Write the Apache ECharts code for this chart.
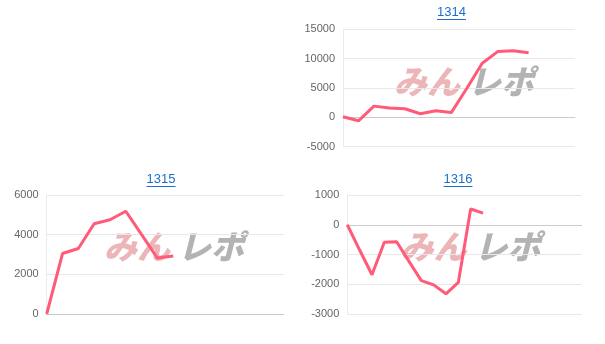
<!DOCTYPE html>
<html>
<head>
<meta charset="utf-8">
<script src="https://cdn.jsdelivr.net/npm/echarts@6/dist/echarts.min.js"></script>
<style>
html,body{margin:0;padding:0;background:#fff;}
#c{width:605px;height:344px;}
</style>
</head>
<body>
<div id="c"></div>
<script>
// ---- data ----
const titles = ['1314', '1315', '1316'];
const days1314 = ['1','2','3','4','5','6','7','8','9','10','11','12','13','14','15','16'];
const days1315 = ['1','2','3','4','5','6','7','8','9','10','11','12','13','14','15','16'];
const days1316 = ['1','2','3','4','5','6','7','8','9','10','11','12','13','14','15','16','17','18','19','20'];
const values1314 = [100, -600, 1900, 1600, 1450, 600, 1100, 800, 4900, 9200, 11200, 11350, 11000];
const values1315 = [0, 3050, 3300, 4550, 4750, 5180, 4000, 2820, 2920];
const values1316 = [0, -850, -1680, -590, -570, -1230, -1880, -2020, -2320, -1940, 530, 390];
const yTicks1314 = {min: -5000, max: 15000, interval: 5000};
const yTicks1315 = {min: 0, max: 6000, interval: 2000};
const yTicks1316 = {min: -3000, max: 1000, interval: 1000};

// ---- layout ----
const grids = [
  {left: 343, top: 29.3, width: 232, height: 117.3},
  {left: 46.7, top: 195, width: 237.3, height: 119},
  {left: 347.3, top: 195, width: 234.4, height: 119}
];
const titlePos = [{x: 451.5, y: 6}, {x: 161, y: 173}, {x: 458, y: 173}];
const wmPos = [{x: 394, y: 65}, {x: 104, y: 230}, {x: 400.5, y: 230}];
const lineColor = '#ff5a78';
const titleColor = '#1a6fcf';

const cats = [days1314, days1315, days1316];
const vals = [values1314, values1315, values1316];
const ticks = [yTicks1314, yTicks1315, yTicks1316];

const chart = echarts.init(document.getElementById('c'), null, {renderer: 'canvas'});

const graphics = [];
titlePos.forEach(function (p) {
  graphics.push({
    type: 'rect', silent: true, z: 10,
    shape: {x: p.x - 14.5, y: p.y + 13, width: 29, height: 1},
    style: {fill: titleColor}
  });
});
wmPos.forEach(function (p) {
  graphics.push({
    type: 'text', z: 0, silent: true, left: p.x, top: p.y,
    style: {
      text: 'みん', fill: '#ecb6b8',
      font: 'italic 900 33px "Noto Sans CJK JP", sans-serif'
    }
  });
  graphics.push({
    type: 'text', z: 0, silent: true, left: p.x + 74, top: p.y,
    style: {
      text: 'レポ', fill: '#b3b3b3',
      font: 'italic 900 33px "Noto Sans CJK JP", sans-serif'
    }
  });
});

const option = {
  animation: false,
  backgroundColor: '#fff',
  title: titles.map(function (t, i) {
    return {
      text: t, left: titlePos[i].x, top: titlePos[i].y, textAlign: 'center',
      padding: 0,
      textStyle: {color: titleColor, fontSize: 13, fontWeight: 'normal', fontFamily: 'Liberation Sans, Arial, sans-serif'}
    };
  }),
  graphic: graphics,
  grid: grids.map(function (g) { return Object.assign({containLabel: false}, g); }),
  xAxis: cats.map(function (c, i) {
    return {
      type: 'category', gridIndex: i, data: c, boundaryGap: false,
      axisLabel: {show: false}, axisTick: {show: false},
      axisLine: {show: true, lineStyle: {color: '#cccccc', width: 1}},
      splitLine: {show: false}
    };
  }),
  yAxis: ticks.map(function (t, i) {
    return {
      type: 'value', gridIndex: i, min: t.min, max: t.max, interval: t.interval,
      axisLine: {show: true, lineStyle: {color: '#ebebeb'}},
      axisTick: {show: false},
      axisLabel: {
        color: '#666', fontSize: 11, margin: 8,
        fontFamily: 'Liberation Sans, Arial, sans-serif',
        formatter: function (v) { return String(v); }
      },
      splitLine: {show: true, lineStyle: {color: '#e8e8e8'}}
    };
  }),
  series: vals.map(function (v, i) {
    return {
      type: 'line', xAxisIndex: i, yAxisIndex: i, data: v,
      showSymbol: false, z: 5,
      lineStyle: {color: lineColor, width: 3},
      itemStyle: {color: lineColor}
    };
  })
};
chart.setOption(option);
</script>
</body>
</html>
